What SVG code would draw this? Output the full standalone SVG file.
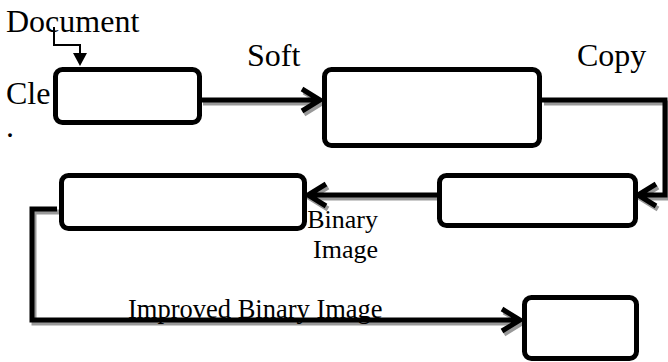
<svg xmlns="http://www.w3.org/2000/svg" width="668" height="362" viewBox="0 0 668 362">
<style>
.box{fill:#fff;stroke:#000;stroke-width:5}
.ln{fill:none;stroke:#000;stroke-width:5}
.sh{fill:none;stroke:#999;stroke-width:5}
.t{font-family:"Liberation Serif","Times New Roman",serif;fill:#000}
</style>
<rect width="668" height="362" fill="#fff"/>
<g id="connectors">
<g transform="translate(2,3)" class="sh">
<path d="M201,100 H318 M302,89 L320,100 L302,111"/>
<path d="M542,100 H665 V195 H640 M656,184 L638,195 L656,206"/>
<path d="M437,195 H310 M326,184 L308,195 L326,206"/>
<path d="M57,209 H32 V320 H518 M502,309 L520,320 L502,331"/>
</g>
<g class="ln">
<path d="M201,100 H318 M302,89 L320,100 L302,111"/>
<path d="M542,100 H665 V195 H640 M656,184 L638,195 L656,206"/>
<path d="M437,195 H310 M326,184 L308,195 L326,206"/>
<path d="M57,209 H32 V320 H518 M502,309 L520,320 L502,331"/>
</g>
<path d="M54,27 V45 H80 V54" fill="none" stroke="#000" stroke-width="2"/>
<polygon points="73,53 87,53 80,66" fill="#000"/>
</g>
<g id="n1"><rect class="box" x="55.5" y="69.5" width="144" height="53" rx="7"/></g>
<g id="n2"><rect class="box" x="324.5" y="69.5" width="215" height="76" rx="7"/></g>
<g id="n3"><rect class="box" x="439.5" y="175.5" width="196" height="50" rx="7"/></g>
<g id="n4"><rect class="box" x="61.5" y="175.5" width="243" height="53" rx="7"/></g>
<g id="n5"><rect class="box" x="524.5" y="297.5" width="112" height="61" rx="7"/></g>
<g id="labels">
<text class="t" x="6" y="32" font-size="32">Document</text>
<text class="t" x="6" y="104" font-size="32">Cle</text>
<text class="t" x="6" y="137" font-size="32">.</text>
<text class="t" x="247" y="66" font-size="32">Soft</text>
<text class="t" x="577" y="66" font-size="32">Copy</text>
<text class="t" x="378" y="228" font-size="26" text-anchor="end">Binary</text>
<text class="t" x="378" y="258" font-size="26" text-anchor="end">Image</text>
<text class="t" x="128" y="318" font-size="26.5">Improved Binary Image</text>
</g>
</svg>
